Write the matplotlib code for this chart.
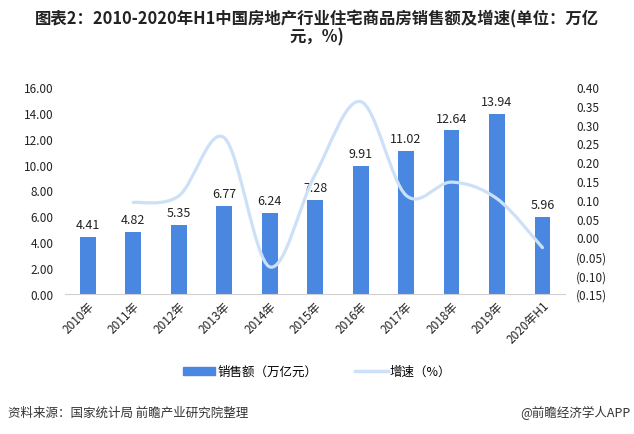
import matplotlib.pyplot as plt
from matplotlib.path import Path
from matplotlib.patches import PathPatch
from matplotlib.lines import Line2D
from matplotlib.ticker import FuncFormatter
import numpy as np

plt.rcParams['font.family'] = ['Noto Sans CJK SC', 'DejaVu Sans']

years = ['2010年', '2011年', '2012年', '2013年', '2014年', '2015年', '2016年',
         '2017年', '2018年', '2019年', '2020年H1']
sales = [4.41, 4.82, 5.35, 6.77, 6.24, 7.28, 9.91, 11.02, 12.64, 13.94, 5.96]
growth = [0.093, 0.110, 0.265, -0.078, 0.167, 0.361, 0.112, 0.147, 0.103, -0.027]  # from 2011

bar_color = '#4a87e0'
line_color = '#cce0f7'

fig = plt.figure(figsize=(6.34, 4.35), dpi=100)
ax = fig.add_axes([0.1025, 0.322, 0.789, 0.476])
x = np.arange(len(years))

bars = ax.bar(x, sales, width=0.35, color=bar_color, zorder=2)
for xi, v in zip(x, sales):
    ax.text(xi, v + 0.45, f'{v:.2f}', ha='center', va='bottom', fontsize=9, color='#222222')

ax.set_ylim(0, 16)
ax.set_yticks(np.arange(0, 16.01, 2))
ax.yaxis.set_major_formatter(FuncFormatter(lambda v, p: f'{v:.2f}'))
ax.set_xlim(-0.5, len(years) - 0.5)
ax.set_xticks(x)
ax.set_xticklabels(years, rotation=45, ha='right', rotation_mode='anchor', fontsize=8.5)
for s in ['top', 'right', 'left']:
    ax.spines[s].set_visible(False)
ax.spines['bottom'].set_color('#d0d0d0')
ax.tick_params(axis='both', length=0, labelsize=8.5, colors='#222222')
ax.tick_params(axis='y', pad=8)

ax2 = ax.twinx()
ax2.set_ylim(-0.15, 0.40)
ax2.set_yticks(np.arange(-0.15, 0.401, 0.05))
ax2.yaxis.set_major_formatter(FuncFormatter(
    lambda v, p: f'({abs(v):.2f})' if v < -1e-9 else f'{abs(v):.2f}'))
for s in ['top', 'right', 'left', 'bottom']:
    ax2.spines[s].set_visible(False)
ax2.tick_params(axis='y', length=0, labelsize=8.5, colors='#222222', pad=8)

# smooth line (Catmull-Rom style bezier through the data points)
gx = x[1:].astype(float)
gy = np.array(growth)
n = len(gx)
verts = [(gx[0], gy[0])]
codes = [Path.MOVETO]
t = 1 / 6
for i in range(n - 1):
    p0 = (gx[i - 1], gy[i - 1]) if i > 0 else (gx[i], gy[i])
    p1 = (gx[i], gy[i])
    p2 = (gx[i + 1], gy[i + 1])
    p3 = (gx[i + 2], gy[i + 2]) if i + 2 < n else p2
    c1 = (p1[0] + (p2[0] - p0[0]) * t, p1[1] + (p2[1] - p0[1]) * t)
    c2 = (p2[0] - (p3[0] - p1[0]) * t, p2[1] - (p3[1] - p1[1]) * t)
    verts += [c1, c2, p2]
    codes += [Path.CURVE4] * 3
ax2.add_patch(PathPatch(Path(verts, codes), facecolor='none', edgecolor=line_color,
                        lw=2.3, zorder=3, capstyle='round'))

handles = [plt.Rectangle((0, 0), 1, 1, color=bar_color),
           Line2D([0], [0], color=line_color, lw=2.5)]
fig.legend(handles, ['销售额（万亿元）', '增速（%）'], loc='center',
           bbox_to_anchor=(0.5, 0.143), ncol=2, frameon=False, fontsize=9,
           handlelength=2.6, handleheight=0.6, columnspacing=3, handletextpad=0.2)

fig.text(0.5, 0.955, '图表2：2010-2020年H1中国房地产行业住宅商品房销售额及增速(单位：万亿',
         ha='center', va='center', fontsize=11.8, fontweight='bold', color='#222222')
fig.text(0.5, 0.915, '元，%)', ha='center', va='center', fontsize=11.8,
         fontweight='bold', color='#222222')
fig.text(0.012, 0.05, '资料来源：国家统计局 前瞻产业研究院整理', ha='left', va='center',
         fontsize=9, color='#333333')
fig.text(0.995, 0.05, '@前瞻经济学人APP', ha='right', va='center',
         fontsize=9, color='#333333')

fig.savefig('out.png', dpi=100)
